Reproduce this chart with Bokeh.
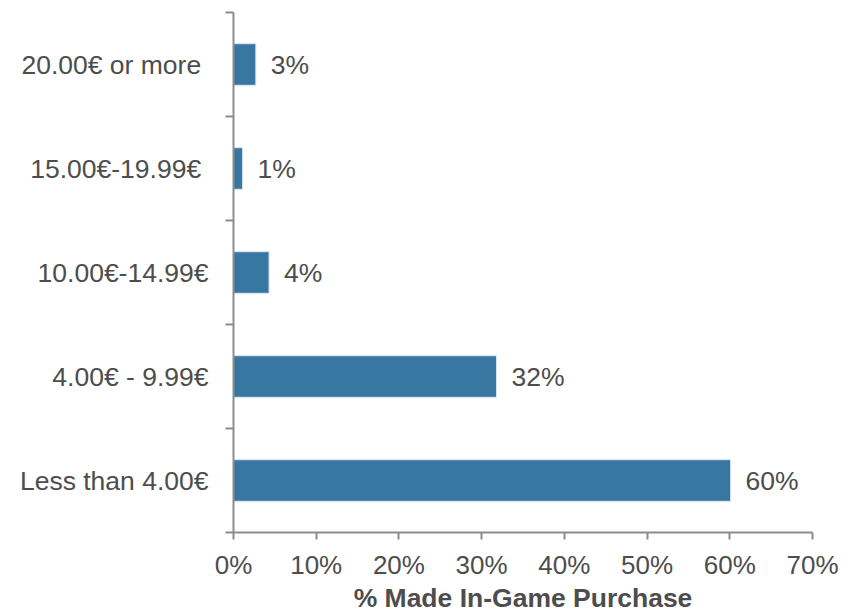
from bokeh.plotting import figure
from bokeh.models import ColumnDataSource, FixedTicker, PrintfTickFormatter, Range1d
from bokeh.core.properties import value
from bokeh.embed import file_html
from bokeh.resources import INLINE

categories = ["Less than 4.00€", "4.00€ - 9.99€", "10.00€-14.99€", "15.00€-19.99€ ", "20.00€ or more "]
percent = [60.1, 31.8, 4.3, 1.1, 2.7]
value_labels = ["60%", "32%", "4%", "1%", "3%"]
x_ticks = [0, 10, 20, 30, 40, 50, 60, 70]

positions = [i + 0.5 for i in range(len(categories))]

src = ColumnDataSource(dict(y=positions, v=percent, lab=value_labels))

FONT = "Liberation Sans"
TXT = "#4d4d4d"
AX = "#8c8c8c"

p = figure(width=842, height=615, output_backend="svg", toolbar_location=None,
           x_range=Range1d(0, 70), y_range=Range1d(0, len(categories)),
           min_border_left=233, min_border_right=30, min_border_top=12, min_border_bottom=0)
p.outline_line_color = None
p.xgrid.visible = False
p.ygrid.visible = False
p.background_fill_color = "white"

p.hbar(y="y", right="v", left=0, height=0.4, source=src,
       fill_color="#3977a3", line_color="#dbe6ef", line_width=1)

p.text(x="v", y="y", text="lab", source=src, x_offset=15,
       text_font=value(FONT), text_font_size="26.5px", text_color=TXT,
       text_baseline="middle", text_align="left")

# x axis
p.xaxis.ticker = FixedTicker(ticks=x_ticks)
p.xaxis.formatter = PrintfTickFormatter(format="%d%%")
p.xaxis.axis_line_color = AX
p.xaxis.axis_line_width = 2
p.xaxis.major_tick_line_color = AX
p.xaxis.major_tick_line_width = 2
p.xaxis.major_tick_out = 7
p.xaxis.major_tick_in = 0
p.xaxis.minor_tick_line_color = None
p.xaxis.major_label_text_font = FONT
p.xaxis.major_label_text_font_size = "26px"
p.xaxis.major_label_text_color = TXT
p.xaxis.major_label_standoff = 10
p.xaxis.axis_label = "% Made In-Game Purchase"
p.xaxis.axis_label_text_font = FONT
p.xaxis.axis_label_text_font_style = "bold"
p.xaxis.axis_label_text_font_size = "26.5px"
p.xaxis.axis_label_text_color = TXT
p.xaxis.axis_label_standoff = 0

# y axis
p.yaxis.ticker = FixedTicker(ticks=positions, minor_ticks=list(range(len(categories) + 1)))
p.yaxis.major_label_overrides = {pos: c for pos, c in zip(positions, categories)}
p.yaxis.axis_line_color = AX
p.yaxis.axis_line_width = 2
p.yaxis.major_tick_line_color = None
p.yaxis.major_tick_out = 0
p.yaxis.major_tick_in = 0
p.yaxis.minor_tick_line_color = AX
p.yaxis.minor_tick_line_width = 2
p.yaxis.minor_tick_out = 8
p.yaxis.minor_tick_in = 0
p.yaxis.major_label_text_font = FONT
p.yaxis.major_label_text_font_size = "26.5px"
p.yaxis.major_label_text_color = TXT
p.yaxis.major_label_standoff = 17

open("out.html", "w").write(file_html(p, INLINE))
